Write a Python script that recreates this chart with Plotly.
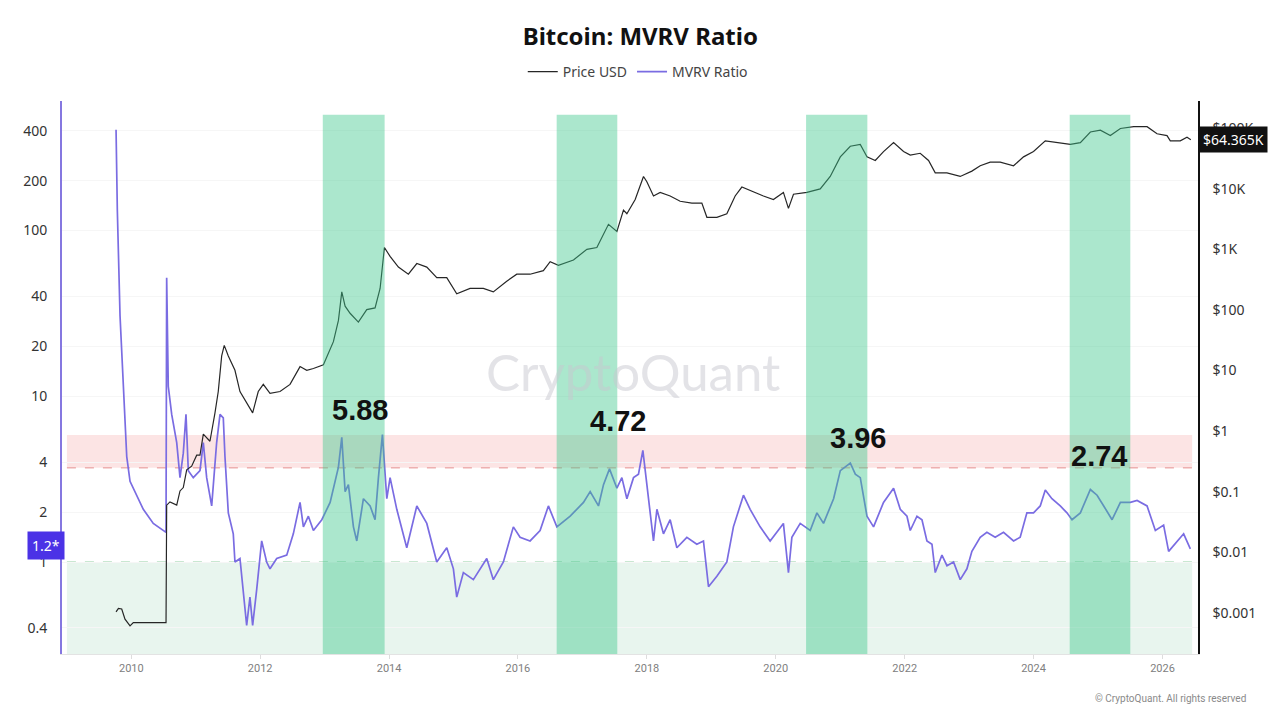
import math
import pandas as pd
import plotly.graph_objects as go

# MVRV ratio (left log axis), decimal years
mvrv_year = [
    2009.763, 2009.783, 2009.825, 2009.876, 2009.929, 2009.98, 2010.031, 2010.186, 2010.341, 2010.539,
    2010.549, 2010.574, 2010.627, 2010.705, 2010.756, 2010.807, 2010.849, 2010.885, 2010.962, 2011.066,
    2011.118, 2011.17, 2011.248, 2011.325, 2011.377, 2011.428, 2011.454, 2011.506, 2011.583, 2011.609,
    2011.687, 2011.738, 2011.791, 2011.842, 2011.884, 2011.946, 2012.024, 2012.101, 2012.153, 2012.257,
    2012.412, 2012.514, 2012.618, 2012.67, 2012.747, 2012.825, 2012.955, 2013.084, 2013.213, 2013.265,
    2013.317, 2013.368, 2013.446, 2013.498, 2013.601, 2013.705, 2013.782, 2013.834, 2013.896, 2013.964,
    2014.015, 2014.119, 2014.274, 2014.43, 2014.585, 2014.74, 2014.895, 2014.998, 2015.05, 2015.153,
    2015.308, 2015.516, 2015.618, 2015.774, 2015.929, 2016.033, 2016.188, 2016.343, 2016.472, 2016.603,
    2016.809, 2017.015, 2017.119, 2017.248, 2017.326, 2017.419, 2017.534, 2017.611, 2017.689, 2017.792,
    2017.869, 2017.937, 2017.999, 2018.102, 2018.155, 2018.257, 2018.361, 2018.465, 2018.62, 2018.775,
    2018.878, 2018.931, 2018.956, 2019.086, 2019.241, 2019.343, 2019.499, 2019.603, 2019.758, 2019.913,
    2020.119, 2020.197, 2020.25, 2020.379, 2020.534, 2020.638, 2020.74, 2020.896, 2021.0, 2021.155,
    2021.233, 2021.31, 2021.414, 2021.516, 2021.671, 2021.827, 2021.931, 2022.035, 2022.086, 2022.19,
    2022.268, 2022.345, 2022.423, 2022.474, 2022.578, 2022.656, 2022.758, 2022.862, 2022.966, 2023.043,
    2023.172, 2023.276, 2023.405, 2023.534, 2023.69, 2023.793, 2023.897, 2024.0, 2024.104, 2024.182,
    2024.285, 2024.414, 2024.518, 2024.596, 2024.725, 2024.88, 2024.984, 2025.087, 2025.217, 2025.346,
    2025.501, 2025.605, 2025.76, 2025.889, 2026.017, 2026.095, 2026.225, 2026.328, 2026.432,
]
mvrv_ratio = [
    406, 132, 30.5, 10.4, 4.33, 3.07, 2.79, 2.08, 1.71, 1.51,
    52, 11.5, 7.78, 5.26, 3.23, 4.54, 7.78, 3.56, 3.23, 3.56,
    5.26, 3.23, 2.18, 5.26, 7.78, 7.41, 4.33, 1.98, 1.48, 1.0,
    1.05, 0.68, 0.415, 0.614, 0.415, 0.68, 1.34, 1.0, 0.91, 1.05,
    1.10, 1.48, 2.29, 1.63, 1.89, 1.55, 1.80, 2.29, 3.74, 5.66,
    2.66, 2.93, 1.63, 1.34, 2.41, 2.18, 1.80, 3.23, 5.88, 2.41,
    3.23, 2.08, 1.22, 2.18, 1.71, 1.0, 1.22, 0.91, 0.614, 0.864,
    0.783, 1.05, 0.783, 1.0, 1.63, 1.41, 1.34, 1.55, 2.18, 1.63,
    1.89, 2.29, 2.66, 2.18, 2.93, 3.65, 2.79, 3.23, 2.41, 3.23,
    3.39, 4.72, 2.93, 1.34, 2.08, 1.48, 1.80, 1.22, 1.41, 1.28,
    1.34, 0.864, 0.71, 0.82, 1.0, 1.63, 2.53, 2.08, 1.63, 1.34,
    1.71, 0.864, 1.41, 1.71, 1.55, 1.98, 1.71, 2.41, 3.56, 3.96,
    3.39, 3.23, 1.89, 1.63, 2.29, 2.79, 2.08, 1.89, 1.55, 1.89,
    1.80, 1.34, 1.28, 0.864, 1.10, 0.95, 1.0, 0.783, 0.91, 1.16,
    1.41, 1.51, 1.41, 1.51, 1.34, 1.41, 1.98, 1.98, 2.18, 2.72,
    2.41, 2.18, 1.98, 1.80, 1.98, 2.74, 2.53, 2.18, 1.80, 2.29,
    2.29, 2.35, 2.18, 1.55, 1.67, 1.16, 1.34, 1.48, 1.2,
]

# BTC price in USD (right log axis)
price_year = [
    2009.763, 2009.8, 2009.851, 2009.902, 2009.98, 2010.031, 2010.539, 2010.549, 2010.6, 2010.705,
    2010.756, 2010.807, 2010.86, 2010.937, 2011.015, 2011.066, 2011.118, 2011.221, 2011.299, 2011.35,
    2011.403, 2011.443, 2011.506, 2011.609, 2011.687, 2011.791, 2011.884, 2011.971, 2012.049, 2012.153,
    2012.308, 2012.463, 2012.618, 2012.722, 2012.825, 2012.98, 2013.135, 2013.213, 2013.265, 2013.317,
    2013.394, 2013.523, 2013.653, 2013.782, 2013.86, 2013.927, 2014.015, 2014.144, 2014.299, 2014.43,
    2014.585, 2014.74, 2014.895, 2015.05, 2015.257, 2015.463, 2015.618, 2015.826, 2015.982, 2016.188,
    2016.394, 2016.499, 2016.627, 2016.86, 2017.068, 2017.223, 2017.403, 2017.534, 2017.636, 2017.689,
    2017.818, 2017.947, 2017.999, 2018.102, 2018.206, 2018.361, 2018.516, 2018.698, 2018.853, 2018.931,
    2019.086, 2019.241, 2019.37, 2019.474, 2019.603, 2019.809, 2019.964, 2020.119, 2020.197, 2020.275,
    2020.483, 2020.689, 2020.844, 2021.0, 2021.155, 2021.31, 2021.414, 2021.543, 2021.671, 2021.827,
    2021.982, 2022.086, 2022.241, 2022.37, 2022.474, 2022.656, 2022.862, 2023.043, 2023.172, 2023.327,
    2023.483, 2023.69, 2023.845, 2024.0, 2024.182, 2024.363, 2024.57, 2024.725, 2024.88, 2025.035,
    2025.19, 2025.346, 2025.553, 2025.76, 2025.915, 2026.07, 2026.121, 2026.276, 2026.38, 2026.44,
]
price_usd = [
    0.00104, 0.00119, 0.00116, 0.00079, 0.00061, 0.00069, 0.00069, 0.060, 0.068, 0.060,
    0.103, 0.117, 0.23, 0.264, 0.40, 0.40, 0.89, 0.68, 2.0, 4.5,
    17.4, 26, 17.4, 10.1, 4.5, 3.0, 2.0, 4.5, 5.9, 4.2,
    4.5, 5.9, 11.6, 10.1, 10.8, 12.4, 29.9, 67, 198, 115,
    88, 63, 101, 108, 226, 1070, 764, 509, 388, 582,
    509, 340, 340, 185, 226, 226, 198, 297, 388, 388,
    445, 624, 545, 667, 1000, 1070, 2580, 1965, 4420, 3860,
    6620, 15920, 13000, 7590, 8690, 7590, 6200, 5790, 5790, 3370,
    3370, 3860, 7590, 10640, 9290, 7590, 6620, 8690, 4730, 8110,
    8690, 9940, 15920, 33500, 50200, 53700, 33500, 29240, 41000, 57500,
    41000, 35800, 38400, 29240, 18240, 18240, 15920, 19500, 23900, 27350,
    27350, 23900, 33500, 41000, 61500, 57500, 53700, 57500, 86300, 92200,
    75300, 98600, 105600, 105600, 80500, 75300, 61500, 61500, 70500, 64365,
]

# highlighted cycle-top windows and their peak labels
band_start = [2012.97, 2016.6, 2020.47, 2024.56]
band_end = [2013.93, 2017.54, 2021.42, 2025.5]
peak_text = ["5.88", "4.72", "3.96", "2.74"]
peak_x = [2013.55, 2017.55, 2021.28, 2025.02]
peak_y = [8.3, 7.1, 5.6, 4.36]

mvrv_ticks = [0.4, 1, 2, 4, 10, 20, 40, 100, 200, 400]
price_ticks = [0.001, 0.01, 0.1, 1, 10, 100, 1000, 10000, 100000]
price_labels = ["$0.001", "$0.01", "$0.1", "$1", "$10", "$100", "$1K", "$10K", "$100K"]

red_low, red_high = 3.7, 5.85
green_line = 1.0
last_mvrv = 1.2
last_price = 64365


def to_date(v):
    y = int(v)
    a = pd.Timestamp(year=y, month=1, day=1)
    b = pd.Timestamp(year=y + 1, month=1, day=1)
    return a + (b - a) * (v - y)


assert len(mvrv_year) == len(mvrv_ratio)
assert len(price_year) == len(price_usd)

x_lo, x_hi = to_date(2008.924), to_date(2026.551)
y1_lo, y1_hi = -0.555, 2.782
y2_lo, y2_hi = -3.678, 5.447
band_top = 0.975
zone_x0, zone_x1 = to_date(2009.0), to_date(2026.46)

fig = go.Figure()
fig.add_trace(go.Scatter(
    x=[to_date(v) for v in price_year], y=price_usd, name="Price USD", yaxis="y2",
    mode="lines", line=dict(color="#262626", width=1.2)))
fig.add_trace(go.Scatter(
    x=[to_date(v) for v in mvrv_year], y=mvrv_ratio, name="MVRV Ratio",
    mode="lines", line=dict(color="#7a6ce2", width=1.7)))

# background zones (shape y values are plain data values on the log axis)
fig.add_shape(type="rect", xref="x", yref="y", x0=zone_x0, x1=zone_x1,
              y0=red_low, y1=red_high,
              fillcolor="rgba(240,120,120,0.2)", line_width=0, layer="below")
fig.add_shape(type="rect", xref="x", yref="y", x0=zone_x0, x1=zone_x1,
              y0=10 ** y1_lo, y1=green_line,
              fillcolor="rgba(100,190,140,0.15)", line_width=0, layer="below")
fig.add_shape(type="line", xref="x", yref="y", x0=zone_x0, x1=zone_x1,
              y0=red_low, y1=red_low,
              line=dict(color="#e58f8f", width=1, dash="dash"), layer="below")
fig.add_shape(type="line", xref="x", yref="y", x0=zone_x0, x1=zone_x1,
              y0=green_line, y1=green_line,
              line=dict(color="#8fcd9f", width=1, dash="dash"), layer="below")

for s, e in zip(band_start, band_end):
    fig.add_shape(type="rect", xref="x", yref="paper", x0=to_date(s), x1=to_date(e),
                  y0=0, y1=band_top, fillcolor="rgba(60,200,140,0.43)",
                  line_width=0, layer="above")

# watermark
fig.add_annotation(text="CryptoQuant", xref="paper", yref="paper", x=0.503, y=0.51,
                   showarrow=False, font=dict(family="Lato", size=51, color="rgba(200,200,208,0.5)"))

for t, px_, py_ in zip(peak_text, peak_x, peak_y):
    fig.add_annotation(text="<b>%s</b>" % t, x=to_date(px_), y=math.log10(py_), xref="x", yref="y",
                       showarrow=False, font=dict(family="Liberation Sans", size=29, color="#111"))

fig.add_annotation(text="%.1f*" % last_mvrv, xref="paper", yref="y", x=0, y=math.log10(last_mvrv),
                   xanchor="right", xshift=3, yshift=3, showarrow=False, bgcolor="#4b32e6", borderpad=4,
                   font=dict(family="Noto Sans", size=14, color="white"))
fig.add_annotation(text="$%.3fK" % (last_price / 1000), xref="paper", yref="y2", x=1, y=math.log10(last_price),
                   xanchor="left", xshift=1, showarrow=False, bgcolor="#111", borderpad=3,
                   font=dict(family="Noto Sans", size=14, color="white"))
fig.add_annotation(text="© CryptoQuant. All rights reserved", xref="paper", yref="paper",
                   x=1.0443, y=-0.08, xanchor="right", yanchor="middle", showarrow=False,
                   font=dict(family="Roboto", size=10, color="#8a8a8a"))

# the page body adds ~8px offset, so the margins are pulled in by that amount
fig.update_layout(
    width=1280, height=720,
    margin=dict(l=54, r=90, t=93, b=74),
    paper_bgcolor="white", plot_bgcolor="white",
    title=dict(text="<b>Bitcoin: MVRV Ratio</b>", x=0.494, xanchor="center", y=0.96, yanchor="middle",
               font=dict(family="Noto Sans", size=24, color="#111")),
    legend=dict(orientation="h", xref="container", yref="container", x=0.492, xanchor="center",
                y=0.911, yanchor="middle", font=dict(family="Noto Sans", size=14, color="#444"),
                itemwidth=30, bgcolor="rgba(0,0,0,0)"),
    showlegend=True,
    xaxis=dict(type="date", range=[x_lo, x_hi], tickformat="%Y", dtick="M24", tick0="2010-01-01",
               showgrid=False, zeroline=False, showline=True, linecolor="#e3e3e3",
               ticks="outside", ticklen=4, tickcolor="#dddddd",
               tickfont=dict(family="Roboto", size=11, color="#808080")),
    yaxis=dict(type="log", range=[y1_lo, y1_hi], tickvals=mvrv_ticks, ticktext=[str(v) for v in mvrv_ticks],
               showgrid=True, gridcolor="#f6f6f6", zeroline=False,
               showline=True, linecolor="#8577e0", linewidth=2, ticks="", ticklabelstandoff=10,
               tickfont=dict(family="Noto Sans", size=14, color="#333")),
    yaxis2=dict(type="log", range=[y2_lo, y2_hi], overlaying="y", side="right",
                tickvals=price_ticks, ticktext=price_labels, showgrid=False, zeroline=False,
                showline=True, linecolor="#111", linewidth=1.5, ticks="", ticklabelstandoff=10,
                tickfont=dict(family="Noto Sans", size=14, color="#333")),
)

fig.write_html("out.html")
